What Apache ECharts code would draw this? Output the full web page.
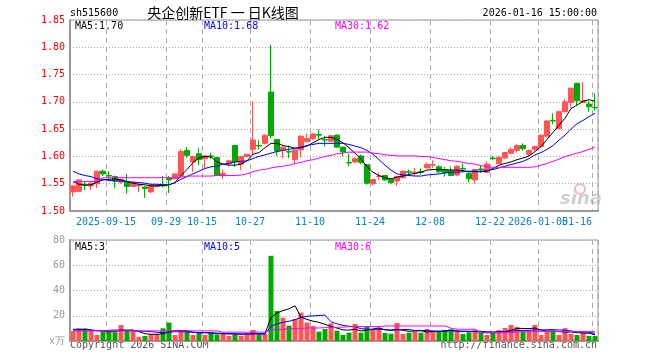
<!DOCTYPE html>
<html><head><meta charset="utf-8">
<script src="https://cdn.jsdelivr.net/npm/echarts@6/dist/echarts.min.js"></script>
<style>html,body{margin:0;padding:0;background:#fff}#c{width:660px;height:360px}</style>
</head><body><div id="c"></div>
<script>
// ---- data ----
const dates = [
'2025-09-05','2025-09-08','2025-09-09','2025-09-10','2025-09-11','2025-09-12',
'2025-09-15','2025-09-16','2025-09-17','2025-09-18','2025-09-19',
'2025-09-22','2025-09-23','2025-09-24','2025-09-25','2025-09-26',
'2025-09-29','2025-09-30','2025-10-09','2025-10-10',
'2025-10-13','2025-10-14','2025-10-15','2025-10-16','2025-10-17',
'2025-10-20','2025-10-21','2025-10-22','2025-10-23','2025-10-24',
'2025-10-27','2025-10-28','2025-10-29','2025-10-30','2025-10-31',
'2025-11-03','2025-11-04','2025-11-05','2025-11-06','2025-11-07',
'2025-11-10','2025-11-11','2025-11-12','2025-11-13','2025-11-14',
'2025-11-17','2025-11-18','2025-11-19','2025-11-20','2025-11-21',
'2025-11-24','2025-11-25','2025-11-26','2025-11-27','2025-11-28',
'2025-12-01','2025-12-02','2025-12-03','2025-12-04','2025-12-05',
'2025-12-08','2025-12-09','2025-12-10','2025-12-11','2025-12-12',
'2025-12-15','2025-12-16','2025-12-17','2025-12-18','2025-12-19',
'2025-12-22','2025-12-23','2025-12-24','2025-12-25','2025-12-26',
'2025-12-29','2025-12-30','2025-12-31',
'2026-01-05','2026-01-06','2026-01-07','2026-01-08','2026-01-09',
'2026-01-12','2026-01-13','2026-01-14','2026-01-15','2026-01-16'];

const opens = [1.535,1.536,1.549,1.546,1.550,1.573,1.565,1.563,1.553,1.553,
1.545,1.546,1.544,1.535,1.545,1.548,1.560,1.559,1.564,1.611,
1.590,1.605,1.596,1.601,1.598,1.565,1.587,1.620,1.586,1.600,
1.613,1.620,1.624,1.718,1.631,1.611,1.609,1.594,1.612,1.627,
1.633,1.640,1.631,1.628,1.639,1.617,1.589,1.590,1.601,1.585,
1.550,1.563,1.565,1.558,1.555,1.561,1.572,1.570,1.572,1.579,
1.584,1.581,1.575,1.574,1.566,1.578,1.569,1.557,1.577,1.571,
1.597,1.587,1.597,1.606,1.611,1.620,1.604,1.613,1.618,1.637,
1.666,1.651,1.682,1.699,1.734,1.699,1.696,1.690];
const closes = [1.546,1.557,1.548,1.551,1.573,1.568,1.564,1.555,1.558,1.545,
1.552,1.548,1.541,1.548,1.547,1.546,1.557,1.568,1.609,1.602,
1.600,1.594,1.601,1.600,1.565,1.569,1.592,1.590,1.600,1.604,
1.630,1.619,1.639,1.638,1.610,1.617,1.608,1.612,1.637,1.633,
1.641,1.639,1.630,1.638,1.617,1.608,1.588,1.596,1.589,1.551,
1.558,1.564,1.557,1.552,1.563,1.573,1.571,1.571,1.571,1.585,
1.585,1.572,1.570,1.565,1.582,1.577,1.559,1.576,1.576,1.586,
1.596,1.598,1.607,1.613,1.620,1.614,1.611,1.618,1.639,1.665,
1.665,1.682,1.700,1.725,1.702,1.702,1.691,1.689];
const highs = [1.547,1.558,1.555,1.552,1.574,1.576,1.573,1.565,1.559,1.568,
1.553,1.549,1.546,1.549,1.548,1.564,1.564,1.569,1.613,1.617,
1.601,1.615,1.602,1.607,1.599,1.576,1.593,1.621,1.601,1.605,
1.701,1.630,1.641,1.804,1.632,1.618,1.620,1.613,1.639,1.642,
1.643,1.649,1.638,1.639,1.640,1.618,1.605,1.598,1.603,1.586,
1.559,1.570,1.566,1.560,1.565,1.574,1.576,1.579,1.578,1.589,
1.593,1.584,1.581,1.581,1.584,1.587,1.571,1.577,1.584,1.591,
1.601,1.601,1.608,1.616,1.622,1.624,1.613,1.620,1.640,1.667,
1.679,1.684,1.705,1.726,1.735,1.736,1.702,1.716];
const lows = [1.526,1.535,1.538,1.538,1.542,1.564,1.558,1.542,1.550,1.532,
1.544,1.535,1.524,1.533,1.544,1.543,1.533,1.558,1.563,1.597,
1.571,1.584,1.579,1.595,1.564,1.559,1.582,1.581,1.575,1.598,
1.602,1.613,1.622,1.633,1.601,1.596,1.597,1.586,1.598,1.626,
1.630,1.631,1.618,1.627,1.616,1.600,1.582,1.587,1.586,1.548,
1.547,1.557,1.555,1.550,1.546,1.559,1.567,1.564,1.567,1.578,
1.579,1.569,1.563,1.564,1.564,1.571,1.553,1.550,1.570,1.570,
1.593,1.586,1.595,1.604,1.607,1.610,1.600,1.610,1.616,1.636,
1.659,1.650,1.680,1.690,1.694,1.698,1.682,1.684];

const ma5 = [1.554,1.549,1.547,1.548,1.553,1.557,1.558,1.559,1.557,1.554,
1.551,1.549,1.548,1.546,1.546,1.547,1.548,1.552,1.565,1.576,
1.589,1.597,1.600,1.599,1.590,1.586,1.584,1.584,1.586,1.592,
1.604,1.607,1.616,1.624,1.624,1.620,1.618,1.615,1.616,1.619,
1.625,1.631,1.635,1.635,1.631,1.625,1.616,1.606,1.595,1.581,
1.571,1.565,1.561,1.559,1.562,1.564,1.567,1.569,1.571,1.575,
1.576,1.576,1.576,1.575,1.575,1.574,1.572,1.572,1.572,1.573,
1.578,1.584,1.587,1.590,1.594,1.597,1.601,1.609,1.618,1.631,
1.644,1.657,1.670,1.688,1.694,1.701,1.704,1.701];
const ma10 = [1.573,1.568,1.565,1.563,1.559,1.558,1.556,1.555,1.555,1.554,
1.553,1.552,1.551,1.549,1.549,1.548,1.548,1.552,1.558,1.563,
1.568,1.573,1.578,1.581,1.582,1.586,1.587,1.590,1.591,1.592,
1.596,1.600,1.603,1.606,1.609,1.611,1.613,1.615,1.617,1.620,
1.622,1.624,1.624,1.624,1.624,1.624,1.622,1.619,1.616,1.611,
1.604,1.594,1.584,1.575,1.568,1.566,1.565,1.564,1.564,1.566,
1.567,1.568,1.570,1.571,1.571,1.572,1.573,1.573,1.573,1.574,
1.576,1.579,1.582,1.585,1.588,1.591,1.596,1.603,1.607,1.613,
1.620,1.630,1.639,1.650,1.660,1.666,1.673,1.679];
const ma30 = [1.554,1.554,1.554,1.554,1.554,1.561,1.561,1.561,1.561,1.561,
1.561,1.561,1.561,1.561,1.561,1.561,1.561,1.561,1.562,1.564,
1.564,1.564,1.564,1.564,1.565,1.565,1.565,1.565,1.566,1.568,
1.572,1.575,1.576,1.579,1.581,1.582,1.584,1.587,1.589,1.592,
1.594,1.597,1.600,1.602,1.605,1.606,1.608,1.608,1.608,1.608,
1.606,1.605,1.603,1.602,1.601,1.601,1.601,1.601,1.600,1.600,
1.598,1.596,1.594,1.592,1.591,1.589,1.587,1.586,1.583,1.581,
1.580,1.580,1.580,1.580,1.580,1.580,1.580,1.581,1.584,1.587,
1.591,1.595,1.600,1.603,1.606,1.609,1.613,1.617];

const volumes = [7.9,10.1,10.1,8.7,4.8,7.4,7.4,6.9,12.7,7.9,
8.2,3.4,4.0,5.3,5.3,10.1,14.6,4.8,8.7,7.9,
4.8,6.9,4.8,6.6,5.3,6.1,4.0,5.3,4.2,5.3,
8.7,5.3,5.6,67.5,23.8,18.5,12.2,17.5,22.5,14.6,
11.9,7.4,9.5,14.0,8.2,4.8,6.6,13.5,6.6,11.9,
8.7,10.6,6.4,5.8,14.3,5.6,6.6,7.4,6.6,9.5,
7.4,7.4,8.7,9.3,7.4,5.6,6.9,8.5,6.6,4.8,
6.6,8.7,10.3,12.7,11.1,7.4,7.4,12.7,4.8,7.4,
7.9,4.8,10.1,5.6,4.8,6.6,4.0,4.0];
const vma5 = [8.7,8.7,9.0,8.7,8.2,7.9,7.4,7.4,8.7,8.7,
8.7,7.4,5.8,5.3,5.3,5.8,7.4,8.2,8.2,8.2,
6.9,6.6,6.6,6.4,6.1,5.8,5.6,5.6,5.3,5.6,
5.8,5.8,5.8,18.5,22.2,24.1,25.5,27.9,18.9,17.1,
15.7,14.8,13.2,11.5,10.2,8.8,8.6,9.4,7.9,8.7,
9.5,10.3,8.8,8.7,9.2,8.5,7.7,7.9,8.1,7.1,
7.5,7.7,7.9,8.5,8.0,7.7,7.6,7.5,7.0,6.5,
6.7,7.0,7.4,8.6,9.9,10.0,9.8,10.3,8.7,7.9,
8.0,7.5,7.0,7.2,6.6,6.4,6.2,5.0];
const vma10 = [9.3,9.3,9.0,8.7,8.2,8.2,8.5,8.7,8.5,8.2,
8.2,7.9,7.7,7.4,6.9,6.6,6.9,7.4,7.4,7.2,
6.9,6.6,6.6,6.4,6.1,6.1,5.8,5.8,5.6,5.6,
5.6,5.6,5.6,11.7,13.6,14.8,15.6,16.9,18.7,19.6,
19.9,20.2,20.5,15.2,13.6,12.3,11.7,11.3,9.7,9.4,
9.1,9.4,9.1,8.3,8.9,9.0,9.0,8.4,8.4,8.2,
8.0,7.7,7.9,8.3,7.6,7.6,7.6,7.7,7.7,7.3,
7.2,7.3,7.5,7.8,8.2,8.4,8.4,8.8,8.7,8.9,
9.0,8.7,8.6,7.9,7.3,7.2,6.9,6.0];
const vma30 = [8.0,8.0,8.0,8.0,8.0,8.0,8.0,8.0,8.0,8.0,
8.0,8.0,8.0,8.0,8.0,8.0,8.0,8.0,8.0,8.0,
8.0,8.0,8.0,8.0,8.0,7.0,7.0,7.0,7.0,7.0,
7.0,7.0,7.0,8.7,9.2,9.2,9.8,9.8,9.8,10.3,
10.3,10.3,10.6,10.6,10.9,10.9,11.4,11.4,11.4,11.4,
11.4,11.4,11.9,11.9,11.9,11.9,11.9,11.9,11.9,11.9,
11.9,11.9,11.9,10.1,9.3,9.3,9.3,9.3,6.6,6.6,
6.6,6.6,6.6,6.6,7.4,7.4,7.4,7.4,7.4,7.4,
7.4,7.4,7.4,7.4,7.4,7.4,7.4,7.4];

const tickDates = ['2025-09-15','2025-09-29','2025-10-15','2025-10-27','2025-11-10','2025-11-24','2025-12-08','2025-12-22','2026-01-05','2026-01-16'];
const tickTexts = ['2025-09-15','09-29','10-15','10-27','11-10','11-24','12-08','12-22','2026-01-05','01-16'];
const priceTicks = [1.50,1.55,1.60,1.65,1.70,1.75,1.80,1.85];
const volTicks = [0,20,40,60,80];
const volLegend = ['MA5:3','MA10:5','MA30:6'];

// ---- chart ----
const RED = '#ff5555', GREEN = '#00a800';
const MONO = '"DejaVu Sans Mono", "Liberation Mono", monospace';
const LASTD = tickDates[tickDates.length-1];
const isTick = (i, v) => tickDates.indexOf(v) >= 0;
const isTickNotLast = (i, v) => tickDates.indexOf(v) >= 0 && v !== LASTD;
const dashV = {show:true, interval:isTick, lineStyle:{color:'#aaa', width:1, type:[5,4]}};
const dotH = {show:true, lineStyle:{color:'#aaa', width:1, type:[1,2]}};
const lblText = v => { const j = tickDates.indexOf(v); return j < 0 ? '' : tickTexts[j]; };

const candleData = dates.map((d,i)=>[opens[i], closes[i], lows[i], highs[i]]);
const volData = volumes.map((v,i)=>({value:v, itemStyle:{color: closes[i] >= opens[i] ? RED : GREEN}}));

const chart = echarts.init(document.getElementById('c'), null, {renderer:'canvas'});
const last = arr => arr[arr.length-1];
chart.setOption({
  animation:false,
  backgroundColor:'#fff',
  grid:[
    {left:70, top:20, width:528, height:191, show:true, borderColor:'#999', borderWidth:1},
    {left:70, top:240, width:528, height:101, show:true, borderColor:'#999', borderWidth:1}
  ],
  xAxis:[
    {type:'category', gridIndex:0, data:dates, boundaryGap:true,
     axisLine:{show:true, lineStyle:{color:'#999', width:2}}, axisTick:{show:false},
     splitLine:dashV,
     axisLabel:{show:true, interval:isTickNotLast, margin:6, hideOverlap:false,
       formatter:v=>'{c|'+lblText(v)+'}',
       rich:{ c:{color:'#0a80d0', fontFamily:MONO, fontSize:10, padding:[0,6,0,0]} }}},
    {type:'category', gridIndex:1, data:dates, boundaryGap:true,
     axisLine:{show:true, lineStyle:{color:'#999', width:2}}, axisTick:{show:false},
     splitLine:dashV, axisLabel:{show:false}},
    {type:'category', gridIndex:0, data:dates, boundaryGap:true, position:'bottom',
     axisLine:{show:false}, axisTick:{show:false}, splitLine:{show:false},
     axisLabel:{show:true, interval:(i,v)=>v===LASTD, showMaxLabel:true, margin:6, align:'right',
       color:'#0a80d0', fontFamily:MONO, fontSize:10, padding:[0,3,0,0], formatter:lblText}}
  ],
  yAxis:[
    {type:'value', gridIndex:0, min:priceTicks[0], max:last(priceTicks), interval:0.05,
     axisLine:{show:true, lineStyle:{color:'#999', width:2}}, axisTick:{show:false},
     splitLine:dotH,
     axisLabel:{color:'#ff0000', fontFamily:MONO, fontSize:10, margin:5, formatter:v=>v.toFixed(2)}},
    {type:'value', gridIndex:1, min:volTicks[0], max:last(volTicks), interval:20,
     axisLine:{show:true, lineStyle:{color:'#999', width:2}}, axisTick:{show:false},
     splitLine:dotH,
     axisLabel:{color:'#999', fontFamily:MONO, fontSize:10, margin:5, formatter:v=> v===0 ? 'x万' : String(v)}}
  ],
  series:[
    {type:'candlestick', xAxisIndex:0, yAxisIndex:0, data:candleData, barWidth:5,
     itemStyle:{color:RED, color0:GREEN, borderColor:RED, borderColor0:GREEN, borderWidth:1}, z:3},
    {type:'line', xAxisIndex:0, yAxisIndex:0, data:ma5, symbol:'none', lineStyle:{color:'#000', width:1}, z:4},
    {type:'line', xAxisIndex:0, yAxisIndex:0, data:ma10, symbol:'none', lineStyle:{color:'#0000ff', width:1}, z:4},
    {type:'line', xAxisIndex:0, yAxisIndex:0, data:ma30, symbol:'none', lineStyle:{color:'#ff00ff', width:1}, z:4},
    {type:'bar', xAxisIndex:1, yAxisIndex:1, data:volData, barWidth:5, z:3},
    {type:'line', xAxisIndex:1, yAxisIndex:1, data:vma5, symbol:'none', lineStyle:{color:'#000', width:1}, z:4},
    {type:'line', xAxisIndex:1, yAxisIndex:1, data:vma10, symbol:'none', lineStyle:{color:'#0000ff', width:1}, z:4},
    {type:'line', xAxisIndex:1, yAxisIndex:1, data:vma30, symbol:'none', lineStyle:{color:'#ff00ff', width:1}, z:4}
  ],
  graphic:[
    {type:'circle', shape:{cx:580, cy:189, r:5}, style:{fill:'none', stroke:'#f2b8b8', lineWidth:2}, z:0, silent:true},
    {type:'text', x:581, y:199, z:0, silent:true, style:{text:'sina', fill:'#d0d0d0', font:'italic bold 18px "DejaVu Sans", sans-serif', textAlign:'center', textVerticalAlign:'middle'}},
    {type:'text', x:70, y:13, style:{text:'sh515600', fill:'#000', font:'10px '+MONO, textAlign:'left', textVerticalAlign:'middle'}},
    {type:'text', x:223, y:13, style:{text:'央企创新ETF 一 日K线图', fill:'#000', font:'14px "Noto Sans CJK SC", sans-serif', textAlign:'center', textVerticalAlign:'middle'}},
    {type:'text', x:597, y:13, style:{text:'2026-01-16 15:00:00', fill:'#000', font:'10px '+MONO, textAlign:'right', textVerticalAlign:'middle'}},
    {type:'text', x:75, y:26, z:10, style:{text:'MA5:'+last(ma5).toFixed(2), fill:'#000', font:'10px '+MONO, textAlign:'left', textVerticalAlign:'middle'}},
    {type:'text', x:204, y:26, z:10, style:{text:'MA10:'+last(ma10).toFixed(2), fill:'#0000ff', font:'10px '+MONO, textAlign:'left', textVerticalAlign:'middle'}},
    {type:'text', x:335, y:26, z:10, style:{text:'MA30:'+last(ma30).toFixed(2), fill:'#ff00ff', font:'10px '+MONO, textAlign:'left', textVerticalAlign:'middle'}},
    {type:'text', x:75, y:247, z:10, style:{text:volLegend[0], fill:'#000', font:'10px '+MONO, textAlign:'left', textVerticalAlign:'middle'}},
    {type:'text', x:204, y:247, z:10, style:{text:volLegend[1], fill:'#0000ff', font:'10px '+MONO, textAlign:'left', textVerticalAlign:'middle'}},
    {type:'text', x:335, y:247, z:10, style:{text:volLegend[2], fill:'#ff00ff', font:'10px '+MONO, textAlign:'left', textVerticalAlign:'middle'}},
    {type:'text', x:70, y:345, style:{text:'Copyright 2026 SINA.COM', fill:'#555', font:'10px '+MONO, textAlign:'left', textVerticalAlign:'middle'}},
    {type:'text', x:597, y:345, style:{text:'http://finance.sina.com.cn', fill:'#555', font:'10px '+MONO, textAlign:'right', textVerticalAlign:'middle'}}
  ]
});
</script></body></html>
